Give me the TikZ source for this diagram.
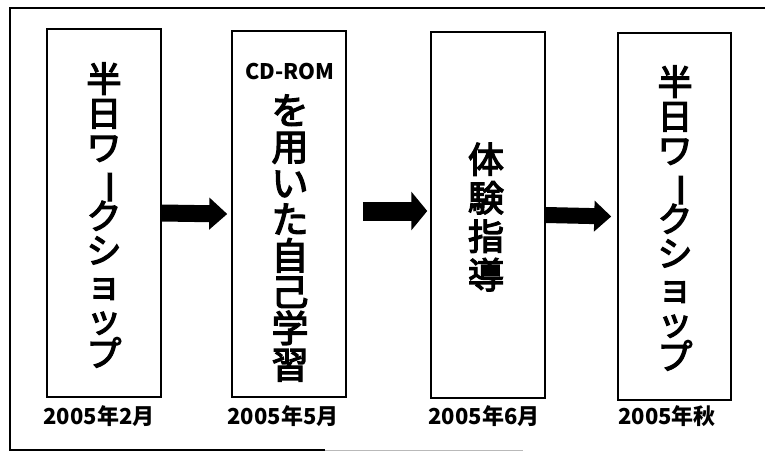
\documentclass[tikz,border=0pt]{standalone}
\usepackage{fontspec}
\usepackage{graphicx}
\usetikzlibrary{arrows.meta}
\newfontfamily\cjk{Noto Sans CJK JP}
\newfontfamily\cjkv[FakeBold=3.5]{Noto Sans CJK JP}
\newcommand\chouon{\rotatebox[origin=c]{-90}{ー}}
\newcommand\vstack[2]{\vbox{\baselineskip=#1\relax\lineskiplimit=-\maxdimen\lineskip=0pt\halign{\hfil##\hfil\cr#2\crcr}}}
\begin{document}
\begin{tikzpicture}[x=1pt,y=-1pt,
  stagebox/.style={draw, line width=1.5pt, minimum width=114pt, inner sep=0pt},
  vlabel/.style={inner sep=0pt, font=\cjkv\fontsize{35}{34}\selectfont},
  vlabelbig/.style={inner sep=0pt, font=\cjkv\fontsize{37}{36}\selectfont},
  latinlabel/.style={inner sep=0pt, font=\cjk\bfseries\fontsize{21.5}{24}\selectfont},
  datelabel/.style={inner sep=0pt, font=\cjk\bfseries\fontsize{22}{24}\selectfont},
  blockarrow/.style={-{Triangle[length=18pt,width=31pt]}, line width=17pt}]
\useasboundingbox (0,0) rectangle (765,452);
% outer frame
\draw[line width=2pt] (765,8) -- (10,8) -- (10,450) -- (325,450);
\draw[line width=1pt, gray!55] (325,450) -- (523,450);
% boxes
\node[stagebox, minimum height=368pt] (b1) at (104,213) {};
\node[stagebox, minimum height=366pt] (b2) at (289,214) {};
\node[stagebox, minimum height=366pt] (b3) at (488,215) {};
\node[stagebox, minimum height=367pt, minimum width=113pt] (b4) at (674.5,216.5) {};
% texts
\node[vlabel] (t1) at (104,215) {\vstack{34.3pt}{半\cr 日\cr ワ\cr \chouon\cr ク\cr シ\cr ョ\cr ッ\cr プ}};
\node[latinlabel] (t2a) at (290,72) {CD-ROM};
\node[vlabelbig] (t2) at (290,238) {\vstack{36.3pt}{を\cr 用\cr い\cr た\cr 自\cr 己\cr 学\cr 習}};
\node[vlabel, font=\cjkv\fontsize{36}{38}\selectfont] (t3) at (486,217) {\vstack{38.5pt}{体\cr 験\cr 指\cr 導}};
\node[vlabel] (t4) at (675,218) {\vstack{34.3pt}{半\cr 日\cr ワ\cr \chouon\cr ク\cr シ\cr ョ\cr ッ\cr プ}};
% dates
\node[datelabel] (d1) at (99,416) {2005年2月};
\node[datelabel] (d2) at (283,416) {2005年5月};
\node[datelabel] (d3) at (484,416) {2005年6月};
\node[datelabel] (d4) at (667,416) {2005年秋};
% arrows
\draw[blockarrow] (b1.east) -- ([xshift=-4pt]b2.west);
\draw[-{Triangle[length=16pt,width=38pt]}, line width=19pt] ([xshift=16pt,yshift=3pt]b2.east) -- ([xshift=-3pt,yshift=4pt]b3.west);
\draw[-{Triangle[length=17pt,width=30pt]}, line width=16pt] (b3.east) -- ([xshift=-6pt]b4.west);
\end{tikzpicture}
\end{document}
